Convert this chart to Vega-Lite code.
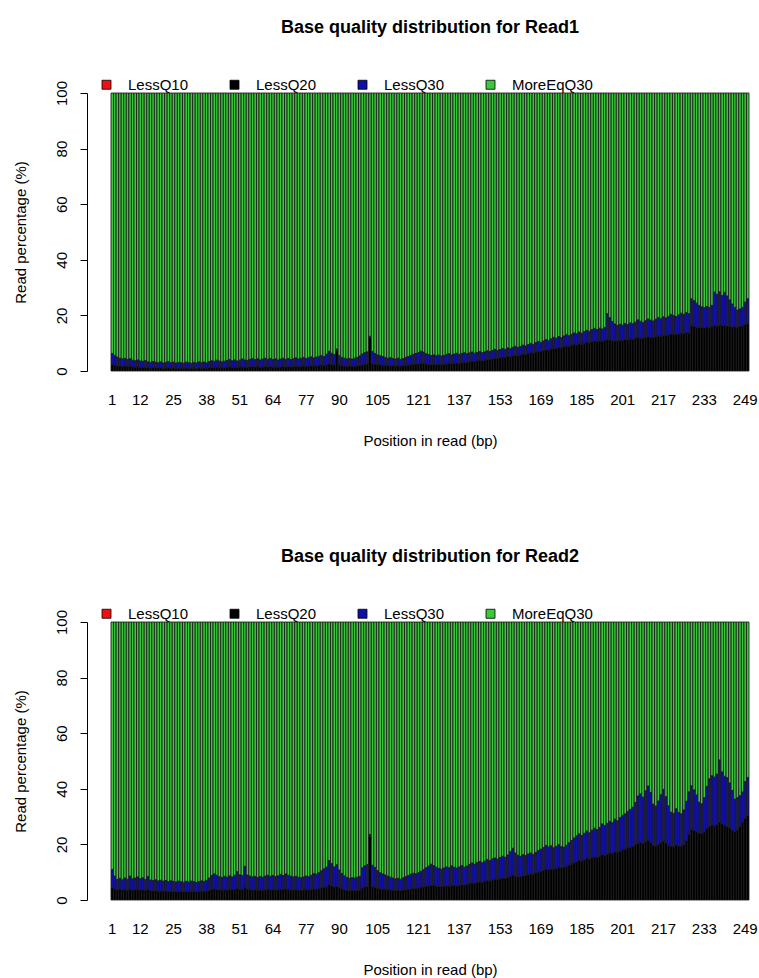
{
  "$schema": "https://vega.github.io/schema/vega-lite/v6.json",
  "background": "white",
  "padding": {"left": 12, "top": 19, "right": 5, "bottom": 5},
  "autosize": {"type": "pad"},
  "config": {
    "font": "Liberation Sans",
    "view": {"stroke": null},
    "axis": {"grid": false, "labelColor": "#000", "titleColor": "#000", "labelFontSize": 15, "titleFontSize": 15, "titleFontWeight": "normal", "domainColor": "#000", "tickColor": "#000"},
    "title": {"font": "Liberation Sans", "fontSize": 18, "fontWeight": "bold", "color": "#000", "anchor": "middle", "offset": 40},
    "legend": {"orient": "none", "legendX": -12, "legendY": -16, "direction": "horizontal", "columns": 4, "symbolType": "square", "symbolSize": 81, "symbolStrokeColor": "#000", "symbolStrokeWidth": 0.8, "symbolOpacity": 1, "labelFontSize": 15, "labelColor": "#000", "labelOffset": 14, "columnPadding": 38, "padding": 0}
  },
  "bounds": "flush",
  "spacing": 251,
  "resolve": {"legend": {"color": "independent"}},
  "vconcat": [
    {
      "title": "Base quality distribution for Read1",
      "width": 638,
      "height": 278,
      "data": {"name": "read1"},
      "transform": [{"fold": ["LessQ20", "LessQ30", "MoreEqQ30"], "as": ["quality", "percent"]}],
      "mark": {"type": "bar", "stroke": "#1a1a1a", "strokeWidth": 0.85},
      "encoding": {
        "x": {"field": "pos", "type": "ordinal", "title": "Position in read (bp)", "sort": "ascending",
          "scale": {"paddingInner": 0, "paddingOuter": 0},
          "axis": {"values": [1, 12, 25, 38, 51, 64, 77, 90, 105, 121, 137, 153, 169, 185, 201, 217, 233, 249], "labelAngle": 0, "domain": false, "ticks": false, "tickSize": 0, "labelPadding": 21, "labelOverlap": false, "titlePadding": 26}},
        "y": {"field": "percent", "type": "quantitative", "stack": "zero", "title": "Read percentage (%)",
          "scale": {"domain": [0, 100], "nice": false},
          "axis": {"values": [0, 20, 40, 60, 80, 100], "offset": 24, "tickSize": 7, "labelAngle": -90, "labelAlign": "center", "labelBaseline": "bottom", "labelPadding": 11, "titlePadding": 26}},
        "color": {"field": "quality", "type": "nominal", "title": null,
          "scale": {"domain": ["LessQ10", "LessQ20", "LessQ30", "MoreEqQ30"], "range": ["#ee1111", "#000000", "#1010a8", "#3cc83c"]}},
        "order": {"field": "quality", "sort": "ascending"}
      }
    },
    {
      "title": "Base quality distribution for Read2",
      "width": 638,
      "height": 278,
      "data": {"name": "read2"},
      "transform": [{"fold": ["LessQ20", "LessQ30", "MoreEqQ30"], "as": ["quality", "percent"]}],
      "mark": {"type": "bar", "stroke": "#1a1a1a", "strokeWidth": 0.85},
      "encoding": {
        "x": {"field": "pos", "type": "ordinal", "title": "Position in read (bp)", "sort": "ascending",
          "scale": {"paddingInner": 0, "paddingOuter": 0},
          "axis": {"values": [1, 12, 25, 38, 51, 64, 77, 90, 105, 121, 137, 153, 169, 185, 201, 217, 233, 249], "labelAngle": 0, "domain": false, "ticks": false, "tickSize": 0, "labelPadding": 21, "labelOverlap": false, "titlePadding": 26}},
        "y": {"field": "percent", "type": "quantitative", "stack": "zero", "title": "Read percentage (%)",
          "scale": {"domain": [0, 100], "nice": false},
          "axis": {"values": [0, 20, 40, 60, 80, 100], "offset": 24, "tickSize": 7, "labelAngle": -90, "labelAlign": "center", "labelBaseline": "bottom", "labelPadding": 11, "titlePadding": 26}},
        "color": {"field": "quality", "type": "nominal", "title": null,
          "scale": {"domain": ["LessQ10", "LessQ20", "LessQ30", "MoreEqQ30"], "range": ["#ee1111", "#000000", "#1010a8", "#3cc83c"]}},
        "order": {"field": "quality", "sort": "ascending"}
      }
    }
  ],
  "datasets": {
    "read1": [
      {"pos":1,"LessQ20":2.4,"LessQ30":3.9,"MoreEqQ30":93.7},
      {"pos":2,"LessQ20":2.1,"LessQ30":3.5,"MoreEqQ30":94.4},
      {"pos":3,"LessQ20":1.9,"LessQ30":3.1,"MoreEqQ30":95.0},
      {"pos":4,"LessQ20":1.8,"LessQ30":2.8,"MoreEqQ30":95.4},
      {"pos":5,"LessQ20":1.7,"LessQ30":2.7,"MoreEqQ30":95.6},
      {"pos":6,"LessQ20":1.8,"LessQ30":2.7,"MoreEqQ30":95.5},
      {"pos":7,"LessQ20":1.6,"LessQ30":2.6,"MoreEqQ30":95.8},
      {"pos":8,"LessQ20":1.7,"LessQ30":2.7,"MoreEqQ30":95.6},
      {"pos":9,"LessQ20":1.5,"LessQ30":2.4,"MoreEqQ30":96.1},
      {"pos":10,"LessQ20":1.4,"LessQ30":2.3,"MoreEqQ30":96.3},
      {"pos":11,"LessQ20":1.5,"LessQ30":2.5,"MoreEqQ30":96.0},
      {"pos":12,"LessQ20":1.4,"LessQ30":2.2,"MoreEqQ30":96.4},
      {"pos":13,"LessQ20":1.3,"LessQ30":2.2,"MoreEqQ30":96.5},
      {"pos":14,"LessQ20":1.4,"LessQ30":2.4,"MoreEqQ30":96.2},
      {"pos":15,"LessQ20":1.2,"LessQ30":2.1,"MoreEqQ30":96.7},
      {"pos":16,"LessQ20":1.1,"LessQ30":2.0,"MoreEqQ30":96.9},
      {"pos":17,"LessQ20":1.3,"LessQ30":2.1,"MoreEqQ30":96.6},
      {"pos":18,"LessQ20":1.2,"LessQ30":2.0,"MoreEqQ30":96.8},
      {"pos":19,"LessQ20":1.1,"LessQ30":1.9,"MoreEqQ30":97.0},
      {"pos":20,"LessQ20":1.2,"LessQ30":2.1,"MoreEqQ30":96.7},
      {"pos":21,"LessQ20":1.0,"LessQ30":1.9,"MoreEqQ30":97.1},
      {"pos":22,"LessQ20":1.1,"LessQ30":2.0,"MoreEqQ30":96.9},
      {"pos":23,"LessQ20":1.2,"LessQ30":2.2,"MoreEqQ30":96.6},
      {"pos":24,"LessQ20":1.0,"LessQ30":2.0,"MoreEqQ30":97.0},
      {"pos":25,"LessQ20":1.1,"LessQ30":2.1,"MoreEqQ30":96.8},
      {"pos":26,"LessQ20":1.0,"LessQ30":1.9,"MoreEqQ30":97.1},
      {"pos":27,"LessQ20":1.1,"LessQ30":2.0,"MoreEqQ30":96.9},
      {"pos":28,"LessQ20":1.0,"LessQ30":2.0,"MoreEqQ30":97.0},
      {"pos":29,"LessQ20":0.9,"LessQ30":1.9,"MoreEqQ30":97.2},
      {"pos":30,"LessQ20":1.1,"LessQ30":2.1,"MoreEqQ30":96.8},
      {"pos":31,"LessQ20":1.0,"LessQ30":2.0,"MoreEqQ30":97.0},
      {"pos":32,"LessQ20":0.9,"LessQ30":1.9,"MoreEqQ30":97.2},
      {"pos":33,"LessQ20":1.0,"LessQ30":2.1,"MoreEqQ30":96.9},
      {"pos":34,"LessQ20":0.9,"LessQ30":2.0,"MoreEqQ30":97.1},
      {"pos":35,"LessQ20":1.1,"LessQ30":2.2,"MoreEqQ30":96.7},
      {"pos":36,"LessQ20":1.0,"LessQ30":2.0,"MoreEqQ30":97.0},
      {"pos":37,"LessQ20":1.1,"LessQ30":2.1,"MoreEqQ30":96.8},
      {"pos":38,"LessQ20":1.0,"LessQ30":1.9,"MoreEqQ30":97.1},
      {"pos":39,"LessQ20":1.2,"LessQ30":2.2,"MoreEqQ30":96.6},
      {"pos":40,"LessQ20":1.3,"LessQ30":2.4,"MoreEqQ30":96.3},
      {"pos":41,"LessQ20":1.2,"LessQ30":2.3,"MoreEqQ30":96.5},
      {"pos":42,"LessQ20":1.4,"LessQ30":2.5,"MoreEqQ30":96.1},
      {"pos":43,"LessQ20":1.3,"LessQ30":2.3,"MoreEqQ30":96.4},
      {"pos":44,"LessQ20":1.2,"LessQ30":2.1,"MoreEqQ30":96.7},
      {"pos":45,"LessQ20":1.3,"LessQ30":2.2,"MoreEqQ30":96.5},
      {"pos":46,"LessQ20":1.4,"LessQ30":2.4,"MoreEqQ30":96.2},
      {"pos":47,"LessQ20":1.5,"LessQ30":2.6,"MoreEqQ30":95.9},
      {"pos":48,"LessQ20":1.3,"LessQ30":2.4,"MoreEqQ30":96.3},
      {"pos":49,"LessQ20":1.4,"LessQ30":2.6,"MoreEqQ30":96.0},
      {"pos":50,"LessQ20":1.3,"LessQ30":2.3,"MoreEqQ30":96.4},
      {"pos":51,"LessQ20":1.4,"LessQ30":2.5,"MoreEqQ30":96.1},
      {"pos":52,"LessQ20":1.5,"LessQ30":2.8,"MoreEqQ30":95.7},
      {"pos":53,"LessQ20":1.4,"LessQ30":2.6,"MoreEqQ30":96.0},
      {"pos":54,"LessQ20":1.3,"LessQ30":2.5,"MoreEqQ30":96.2},
      {"pos":55,"LessQ20":1.5,"LessQ30":2.7,"MoreEqQ30":95.8},
      {"pos":56,"LessQ20":1.6,"LessQ30":2.9,"MoreEqQ30":95.5},
      {"pos":57,"LessQ20":1.5,"LessQ30":2.6,"MoreEqQ30":95.9},
      {"pos":58,"LessQ20":1.6,"LessQ30":2.8,"MoreEqQ30":95.6},
      {"pos":59,"LessQ20":1.4,"LessQ30":2.6,"MoreEqQ30":96.0},
      {"pos":60,"LessQ20":1.5,"LessQ30":2.8,"MoreEqQ30":95.7},
      {"pos":61,"LessQ20":1.6,"LessQ30":3.0,"MoreEqQ30":95.4},
      {"pos":62,"LessQ20":1.5,"LessQ30":2.7,"MoreEqQ30":95.8},
      {"pos":63,"LessQ20":1.6,"LessQ30":2.9,"MoreEqQ30":95.5},
      {"pos":64,"LessQ20":1.4,"LessQ30":2.7,"MoreEqQ30":95.9},
      {"pos":65,"LessQ20":1.5,"LessQ30":2.9,"MoreEqQ30":95.6},
      {"pos":66,"LessQ20":1.4,"LessQ30":2.6,"MoreEqQ30":96.0},
      {"pos":67,"LessQ20":1.5,"LessQ30":2.8,"MoreEqQ30":95.7},
      {"pos":68,"LessQ20":1.6,"LessQ30":3.0,"MoreEqQ30":95.4},
      {"pos":69,"LessQ20":1.5,"LessQ30":2.7,"MoreEqQ30":95.8},
      {"pos":70,"LessQ20":1.6,"LessQ30":2.9,"MoreEqQ30":95.5},
      {"pos":71,"LessQ20":1.5,"LessQ30":2.6,"MoreEqQ30":95.9},
      {"pos":72,"LessQ20":1.6,"LessQ30":2.8,"MoreEqQ30":95.6},
      {"pos":73,"LessQ20":1.7,"LessQ30":3.0,"MoreEqQ30":95.3},
      {"pos":74,"LessQ20":1.6,"LessQ30":2.7,"MoreEqQ30":95.7},
      {"pos":75,"LessQ20":1.7,"LessQ30":2.9,"MoreEqQ30":95.4},
      {"pos":76,"LessQ20":1.8,"LessQ30":3.1,"MoreEqQ30":95.1},
      {"pos":77,"LessQ20":1.7,"LessQ30":2.8,"MoreEqQ30":95.5},
      {"pos":78,"LessQ20":1.8,"LessQ30":3.0,"MoreEqQ30":95.2},
      {"pos":79,"LessQ20":1.9,"LessQ30":3.2,"MoreEqQ30":94.9},
      {"pos":80,"LessQ20":1.8,"LessQ30":2.9,"MoreEqQ30":95.3},
      {"pos":81,"LessQ20":1.9,"LessQ30":3.1,"MoreEqQ30":95.0},
      {"pos":82,"LessQ20":2.0,"LessQ30":3.3,"MoreEqQ30":94.7},
      {"pos":83,"LessQ20":2.1,"LessQ30":3.5,"MoreEqQ30":94.4},
      {"pos":84,"LessQ20":2.0,"LessQ30":3.2,"MoreEqQ30":94.8},
      {"pos":85,"LessQ20":2.2,"LessQ30":3.8,"MoreEqQ30":94.0},
      {"pos":86,"LessQ20":2.5,"LessQ30":4.6,"MoreEqQ30":92.9},
      {"pos":87,"LessQ20":2.3,"LessQ30":4.1,"MoreEqQ30":93.6},
      {"pos":88,"LessQ20":2.2,"LessQ30":3.7,"MoreEqQ30":94.1},
      {"pos":89,"LessQ20":7.4,"LessQ30":0.5,"MoreEqQ30":92.1},
      {"pos":90,"LessQ20":2.1,"LessQ30":3.5,"MoreEqQ30":94.4},
      {"pos":91,"LessQ20":1.9,"LessQ30":3.0,"MoreEqQ30":95.1},
      {"pos":92,"LessQ20":1.8,"LessQ30":2.8,"MoreEqQ30":95.4},
      {"pos":93,"LessQ20":1.7,"LessQ30":2.7,"MoreEqQ30":95.6},
      {"pos":94,"LessQ20":1.8,"LessQ30":2.7,"MoreEqQ30":95.5},
      {"pos":95,"LessQ20":1.7,"LessQ30":2.6,"MoreEqQ30":95.7},
      {"pos":96,"LessQ20":1.8,"LessQ30":2.8,"MoreEqQ30":95.4},
      {"pos":97,"LessQ20":1.9,"LessQ30":3.0,"MoreEqQ30":95.1},
      {"pos":98,"LessQ20":2.0,"LessQ30":3.4,"MoreEqQ30":94.6},
      {"pos":99,"LessQ20":2.2,"LessQ30":3.9,"MoreEqQ30":93.9},
      {"pos":100,"LessQ20":2.4,"LessQ30":4.2,"MoreEqQ30":93.4},
      {"pos":101,"LessQ20":2.5,"LessQ30":4.4,"MoreEqQ30":93.1},
      {"pos":102,"LessQ20":12.0,"LessQ30":0.5,"MoreEqQ30":87.5},
      {"pos":103,"LessQ20":2.6,"LessQ30":4.4,"MoreEqQ30":93.0},
      {"pos":104,"LessQ20":2.4,"LessQ30":3.9,"MoreEqQ30":93.7},
      {"pos":105,"LessQ20":2.3,"LessQ30":3.5,"MoreEqQ30":94.2},
      {"pos":106,"LessQ20":2.2,"LessQ30":3.3,"MoreEqQ30":94.5},
      {"pos":107,"LessQ20":2.1,"LessQ30":3.1,"MoreEqQ30":94.8},
      {"pos":108,"LessQ20":2.0,"LessQ30":2.9,"MoreEqQ30":95.1},
      {"pos":109,"LessQ20":1.9,"LessQ30":2.7,"MoreEqQ30":95.4},
      {"pos":110,"LessQ20":2.0,"LessQ30":2.8,"MoreEqQ30":95.2},
      {"pos":111,"LessQ20":1.9,"LessQ30":2.6,"MoreEqQ30":95.5},
      {"pos":112,"LessQ20":1.8,"LessQ30":2.5,"MoreEqQ30":95.7},
      {"pos":113,"LessQ20":1.9,"LessQ30":2.7,"MoreEqQ30":95.4},
      {"pos":114,"LessQ20":1.8,"LessQ30":2.4,"MoreEqQ30":95.8},
      {"pos":115,"LessQ20":1.9,"LessQ30":2.6,"MoreEqQ30":95.5},
      {"pos":116,"LessQ20":2.0,"LessQ30":2.9,"MoreEqQ30":95.1},
      {"pos":117,"LessQ20":2.1,"LessQ30":3.1,"MoreEqQ30":94.8},
      {"pos":118,"LessQ20":2.3,"LessQ30":3.3,"MoreEqQ30":94.4},
      {"pos":119,"LessQ20":2.4,"LessQ30":3.6,"MoreEqQ30":94.0},
      {"pos":120,"LessQ20":2.5,"LessQ30":3.8,"MoreEqQ30":93.7},
      {"pos":121,"LessQ20":2.6,"LessQ30":4.0,"MoreEqQ30":93.4},
      {"pos":122,"LessQ20":2.8,"LessQ30":4.3,"MoreEqQ30":92.9},
      {"pos":123,"LessQ20":2.7,"LessQ30":4.1,"MoreEqQ30":93.2},
      {"pos":124,"LessQ20":2.5,"LessQ30":3.7,"MoreEqQ30":93.8},
      {"pos":125,"LessQ20":2.4,"LessQ30":3.5,"MoreEqQ30":94.1},
      {"pos":126,"LessQ20":2.3,"LessQ30":3.3,"MoreEqQ30":94.4},
      {"pos":127,"LessQ20":2.4,"LessQ30":3.4,"MoreEqQ30":94.2},
      {"pos":128,"LessQ20":2.3,"LessQ30":3.2,"MoreEqQ30":94.5},
      {"pos":129,"LessQ20":2.4,"LessQ30":3.3,"MoreEqQ30":94.3},
      {"pos":130,"LessQ20":2.3,"LessQ30":3.1,"MoreEqQ30":94.6},
      {"pos":131,"LessQ20":2.4,"LessQ30":3.2,"MoreEqQ30":94.4},
      {"pos":132,"LessQ20":2.5,"LessQ30":3.4,"MoreEqQ30":94.1},
      {"pos":133,"LessQ20":2.7,"LessQ30":3.5,"MoreEqQ30":93.8},
      {"pos":134,"LessQ20":2.6,"LessQ30":3.2,"MoreEqQ30":94.2},
      {"pos":135,"LessQ20":2.8,"LessQ30":3.3,"MoreEqQ30":93.9},
      {"pos":136,"LessQ20":2.9,"LessQ30":3.5,"MoreEqQ30":93.6},
      {"pos":137,"LessQ20":2.8,"LessQ30":3.2,"MoreEqQ30":94.0},
      {"pos":138,"LessQ20":3.0,"LessQ30":3.3,"MoreEqQ30":93.7},
      {"pos":139,"LessQ20":3.2,"LessQ30":3.4,"MoreEqQ30":93.4},
      {"pos":140,"LessQ20":3.1,"LessQ30":3.1,"MoreEqQ30":93.8},
      {"pos":141,"LessQ20":3.3,"LessQ30":3.2,"MoreEqQ30":93.5},
      {"pos":142,"LessQ20":3.5,"LessQ30":3.3,"MoreEqQ30":93.2},
      {"pos":143,"LessQ20":3.4,"LessQ30":3.0,"MoreEqQ30":93.6},
      {"pos":144,"LessQ20":3.6,"LessQ30":3.1,"MoreEqQ30":93.3},
      {"pos":145,"LessQ20":3.8,"LessQ30":3.2,"MoreEqQ30":93.0},
      {"pos":146,"LessQ20":3.7,"LessQ30":2.9,"MoreEqQ30":93.4},
      {"pos":147,"LessQ20":3.9,"LessQ30":3.0,"MoreEqQ30":93.1},
      {"pos":148,"LessQ20":4.2,"LessQ30":3.1,"MoreEqQ30":92.7},
      {"pos":149,"LessQ20":4.1,"LessQ30":2.9,"MoreEqQ30":93.0},
      {"pos":150,"LessQ20":4.4,"LessQ30":3.0,"MoreEqQ30":92.6},
      {"pos":151,"LessQ20":4.6,"LessQ30":3.2,"MoreEqQ30":92.2},
      {"pos":152,"LessQ20":4.5,"LessQ30":2.9,"MoreEqQ30":92.6},
      {"pos":153,"LessQ20":4.7,"LessQ30":3.0,"MoreEqQ30":92.3},
      {"pos":154,"LessQ20":5.0,"LessQ30":3.1,"MoreEqQ30":91.9},
      {"pos":155,"LessQ20":4.9,"LessQ30":2.9,"MoreEqQ30":92.2},
      {"pos":156,"LessQ20":5.2,"LessQ30":3.1,"MoreEqQ30":91.7},
      {"pos":157,"LessQ20":5.1,"LessQ30":2.9,"MoreEqQ30":92.0},
      {"pos":158,"LessQ20":5.4,"LessQ30":3.1,"MoreEqQ30":91.5},
      {"pos":159,"LessQ20":5.7,"LessQ30":3.2,"MoreEqQ30":91.1},
      {"pos":160,"LessQ20":5.5,"LessQ30":3.0,"MoreEqQ30":91.5},
      {"pos":161,"LessQ20":5.8,"LessQ30":3.0,"MoreEqQ30":91.2},
      {"pos":162,"LessQ20":6.1,"LessQ30":3.2,"MoreEqQ30":90.7},
      {"pos":163,"LessQ20":6.0,"LessQ30":3.0,"MoreEqQ30":91.0},
      {"pos":164,"LessQ20":6.3,"LessQ30":3.2,"MoreEqQ30":90.5},
      {"pos":165,"LessQ20":6.6,"LessQ30":3.3,"MoreEqQ30":90.1},
      {"pos":166,"LessQ20":6.5,"LessQ30":3.1,"MoreEqQ30":90.4},
      {"pos":167,"LessQ20":6.8,"LessQ30":3.4,"MoreEqQ30":89.8},
      {"pos":168,"LessQ20":7.1,"LessQ30":3.5,"MoreEqQ30":89.4},
      {"pos":169,"LessQ20":7.0,"LessQ30":3.3,"MoreEqQ30":89.7},
      {"pos":170,"LessQ20":7.3,"LessQ30":3.5,"MoreEqQ30":89.2},
      {"pos":171,"LessQ20":7.6,"LessQ30":3.7,"MoreEqQ30":88.7},
      {"pos":172,"LessQ20":7.5,"LessQ30":3.5,"MoreEqQ30":89.0},
      {"pos":173,"LessQ20":7.9,"LessQ30":3.7,"MoreEqQ30":88.4},
      {"pos":174,"LessQ20":8.2,"LessQ30":3.9,"MoreEqQ30":87.9},
      {"pos":175,"LessQ20":8.1,"LessQ30":3.7,"MoreEqQ30":88.2},
      {"pos":176,"LessQ20":8.5,"LessQ30":3.9,"MoreEqQ30":87.6},
      {"pos":177,"LessQ20":8.3,"LessQ30":3.7,"MoreEqQ30":88.0},
      {"pos":178,"LessQ20":8.7,"LessQ30":3.9,"MoreEqQ30":87.4},
      {"pos":179,"LessQ20":9.0,"LessQ30":4.1,"MoreEqQ30":86.9},
      {"pos":180,"LessQ20":8.9,"LessQ30":3.8,"MoreEqQ30":87.3},
      {"pos":181,"LessQ20":9.2,"LessQ30":4.0,"MoreEqQ30":86.8},
      {"pos":182,"LessQ20":9.5,"LessQ30":4.2,"MoreEqQ30":86.3},
      {"pos":183,"LessQ20":9.4,"LessQ30":4.0,"MoreEqQ30":86.6},
      {"pos":184,"LessQ20":9.8,"LessQ30":4.2,"MoreEqQ30":86.0},
      {"pos":185,"LessQ20":9.6,"LessQ30":4.0,"MoreEqQ30":86.4},
      {"pos":186,"LessQ20":10.0,"LessQ30":4.2,"MoreEqQ30":85.8},
      {"pos":187,"LessQ20":10.3,"LessQ30":4.3,"MoreEqQ30":85.4},
      {"pos":188,"LessQ20":10.1,"LessQ30":4.2,"MoreEqQ30":85.7},
      {"pos":189,"LessQ20":10.5,"LessQ30":4.4,"MoreEqQ30":85.1},
      {"pos":190,"LessQ20":10.8,"LessQ30":4.5,"MoreEqQ30":84.7},
      {"pos":191,"LessQ20":10.6,"LessQ30":4.3,"MoreEqQ30":85.1},
      {"pos":192,"LessQ20":10.9,"LessQ30":4.5,"MoreEqQ30":84.6},
      {"pos":193,"LessQ20":10.7,"LessQ30":4.4,"MoreEqQ30":84.9},
      {"pos":194,"LessQ20":11.0,"LessQ30":4.6,"MoreEqQ30":84.4},
      {"pos":195,"LessQ20":11.4,"LessQ30":9.2,"MoreEqQ30":79.4},
      {"pos":196,"LessQ20":11.2,"LessQ30":8.0,"MoreEqQ30":80.8},
      {"pos":197,"LessQ20":11.0,"LessQ30":6.8,"MoreEqQ30":82.2},
      {"pos":198,"LessQ20":10.8,"LessQ30":6.1,"MoreEqQ30":83.1},
      {"pos":199,"LessQ20":10.9,"LessQ30":5.5,"MoreEqQ30":83.6},
      {"pos":200,"LessQ20":11.1,"LessQ30":5.7,"MoreEqQ30":83.2},
      {"pos":201,"LessQ20":11.0,"LessQ30":5.5,"MoreEqQ30":83.5},
      {"pos":202,"LessQ20":11.3,"LessQ30":5.8,"MoreEqQ30":82.9},
      {"pos":203,"LessQ20":11.2,"LessQ30":5.5,"MoreEqQ30":83.3},
      {"pos":204,"LessQ20":11.5,"LessQ30":5.8,"MoreEqQ30":82.7},
      {"pos":205,"LessQ20":11.4,"LessQ30":5.6,"MoreEqQ30":83.0},
      {"pos":206,"LessQ20":11.7,"LessQ30":5.9,"MoreEqQ30":82.4},
      {"pos":207,"LessQ20":12.0,"LessQ30":6.4,"MoreEqQ30":81.6},
      {"pos":208,"LessQ20":11.8,"LessQ30":6.1,"MoreEqQ30":82.1},
      {"pos":209,"LessQ20":11.7,"LessQ30":5.8,"MoreEqQ30":82.5},
      {"pos":210,"LessQ20":12.0,"LessQ30":6.1,"MoreEqQ30":81.9},
      {"pos":211,"LessQ20":12.3,"LessQ30":6.4,"MoreEqQ30":81.3},
      {"pos":212,"LessQ20":12.1,"LessQ30":6.2,"MoreEqQ30":81.7},
      {"pos":213,"LessQ20":12.0,"LessQ30":6.0,"MoreEqQ30":82.0},
      {"pos":214,"LessQ20":12.3,"LessQ30":6.3,"MoreEqQ30":81.4},
      {"pos":215,"LessQ20":12.6,"LessQ30":6.6,"MoreEqQ30":80.8},
      {"pos":216,"LessQ20":12.5,"LessQ30":6.3,"MoreEqQ30":81.2},
      {"pos":217,"LessQ20":12.8,"LessQ30":6.7,"MoreEqQ30":80.5},
      {"pos":218,"LessQ20":12.7,"LessQ30":6.4,"MoreEqQ30":80.9},
      {"pos":219,"LessQ20":13.0,"LessQ30":6.7,"MoreEqQ30":80.3},
      {"pos":220,"LessQ20":13.3,"LessQ30":7.1,"MoreEqQ30":79.6},
      {"pos":221,"LessQ20":13.2,"LessQ30":6.8,"MoreEqQ30":80.0},
      {"pos":222,"LessQ20":13.1,"LessQ30":6.5,"MoreEqQ30":80.4},
      {"pos":223,"LessQ20":13.4,"LessQ30":6.8,"MoreEqQ30":79.8},
      {"pos":224,"LessQ20":13.6,"LessQ30":7.2,"MoreEqQ30":79.2},
      {"pos":225,"LessQ20":13.5,"LessQ30":6.9,"MoreEqQ30":79.6},
      {"pos":226,"LessQ20":13.8,"LessQ30":7.2,"MoreEqQ30":79.0},
      {"pos":227,"LessQ20":13.7,"LessQ30":6.9,"MoreEqQ30":79.4},
      {"pos":228,"LessQ20":16.3,"LessQ30":9.7,"MoreEqQ30":74.0},
      {"pos":229,"LessQ20":16.1,"LessQ30":9.2,"MoreEqQ30":74.7},
      {"pos":230,"LessQ20":15.8,"LessQ30":8.6,"MoreEqQ30":75.6},
      {"pos":231,"LessQ20":15.6,"LessQ30":8.0,"MoreEqQ30":76.4},
      {"pos":232,"LessQ20":15.7,"LessQ30":7.4,"MoreEqQ30":76.9},
      {"pos":233,"LessQ20":15.5,"LessQ30":7.3,"MoreEqQ30":77.2},
      {"pos":234,"LessQ20":15.8,"LessQ30":7.4,"MoreEqQ30":76.8},
      {"pos":235,"LessQ20":15.6,"LessQ30":7.3,"MoreEqQ30":77.1},
      {"pos":236,"LessQ20":15.9,"LessQ30":7.7,"MoreEqQ30":76.4},
      {"pos":237,"LessQ20":16.4,"LessQ30":12.0,"MoreEqQ30":71.6},
      {"pos":238,"LessQ20":16.2,"LessQ30":11.4,"MoreEqQ30":72.4},
      {"pos":239,"LessQ20":16.5,"LessQ30":12.0,"MoreEqQ30":71.5},
      {"pos":240,"LessQ20":16.3,"LessQ30":10.9,"MoreEqQ30":72.8},
      {"pos":241,"LessQ20":16.4,"LessQ30":11.9,"MoreEqQ30":71.7},
      {"pos":242,"LessQ20":16.2,"LessQ30":10.8,"MoreEqQ30":73.0},
      {"pos":243,"LessQ20":16.0,"LessQ30":9.6,"MoreEqQ30":74.4},
      {"pos":244,"LessQ20":15.8,"LessQ30":8.3,"MoreEqQ30":75.9},
      {"pos":245,"LessQ20":15.9,"LessQ30":7.0,"MoreEqQ30":77.1},
      {"pos":246,"LessQ20":15.7,"LessQ30":6.2,"MoreEqQ30":78.1},
      {"pos":247,"LessQ20":16.0,"LessQ30":6.3,"MoreEqQ30":77.7},
      {"pos":248,"LessQ20":16.3,"LessQ30":6.5,"MoreEqQ30":77.2},
      {"pos":249,"LessQ20":16.8,"LessQ30":8.0,"MoreEqQ30":75.2},
      {"pos":250,"LessQ20":17.2,"LessQ30":8.8,"MoreEqQ30":74.0}
    ],
    "read2": [
      {"pos":1,"LessQ20":4.6,"LessQ30":6.4,"MoreEqQ30":89.0},
      {"pos":2,"LessQ20":4.0,"LessQ30":4.6,"MoreEqQ30":91.4},
      {"pos":3,"LessQ20":3.7,"LessQ30":3.7,"MoreEqQ30":92.6},
      {"pos":4,"LessQ20":3.8,"LessQ30":4.0,"MoreEqQ30":92.2},
      {"pos":5,"LessQ20":3.6,"LessQ30":3.7,"MoreEqQ30":92.7},
      {"pos":6,"LessQ20":3.7,"LessQ30":4.2,"MoreEqQ30":92.1},
      {"pos":7,"LessQ20":3.5,"LessQ30":4.0,"MoreEqQ30":92.5},
      {"pos":8,"LessQ20":3.8,"LessQ30":4.8,"MoreEqQ30":91.4},
      {"pos":9,"LessQ20":3.6,"LessQ30":4.0,"MoreEqQ30":92.4},
      {"pos":10,"LessQ20":3.7,"LessQ30":4.2,"MoreEqQ30":92.1},
      {"pos":11,"LessQ20":3.8,"LessQ30":4.5,"MoreEqQ30":91.7},
      {"pos":12,"LessQ20":3.6,"LessQ30":4.1,"MoreEqQ30":92.3},
      {"pos":13,"LessQ20":3.7,"LessQ30":4.3,"MoreEqQ30":92.0},
      {"pos":14,"LessQ20":3.5,"LessQ30":3.9,"MoreEqQ30":92.6},
      {"pos":15,"LessQ20":3.8,"LessQ30":4.7,"MoreEqQ30":91.5},
      {"pos":16,"LessQ20":3.4,"LessQ30":3.8,"MoreEqQ30":92.8},
      {"pos":17,"LessQ20":3.3,"LessQ30":3.7,"MoreEqQ30":93.0},
      {"pos":18,"LessQ20":3.4,"LessQ30":3.9,"MoreEqQ30":92.7},
      {"pos":19,"LessQ20":3.2,"LessQ30":3.7,"MoreEqQ30":93.1},
      {"pos":20,"LessQ20":3.3,"LessQ30":3.8,"MoreEqQ30":92.9},
      {"pos":21,"LessQ20":3.2,"LessQ30":3.6,"MoreEqQ30":93.2},
      {"pos":22,"LessQ20":3.3,"LessQ30":3.7,"MoreEqQ30":93.0},
      {"pos":23,"LessQ20":3.1,"LessQ30":3.5,"MoreEqQ30":93.4},
      {"pos":24,"LessQ20":3.2,"LessQ30":3.7,"MoreEqQ30":93.1},
      {"pos":25,"LessQ20":3.1,"LessQ30":3.6,"MoreEqQ30":93.3},
      {"pos":26,"LessQ20":3.0,"LessQ30":3.5,"MoreEqQ30":93.5},
      {"pos":27,"LessQ20":3.2,"LessQ30":3.6,"MoreEqQ30":93.2},
      {"pos":28,"LessQ20":3.1,"LessQ30":3.5,"MoreEqQ30":93.4},
      {"pos":29,"LessQ20":3.0,"LessQ30":3.4,"MoreEqQ30":93.6},
      {"pos":30,"LessQ20":3.1,"LessQ30":3.6,"MoreEqQ30":93.3},
      {"pos":31,"LessQ20":3.0,"LessQ30":3.5,"MoreEqQ30":93.5},
      {"pos":32,"LessQ20":3.2,"LessQ30":3.6,"MoreEqQ30":93.2},
      {"pos":33,"LessQ20":3.1,"LessQ30":3.5,"MoreEqQ30":93.4},
      {"pos":34,"LessQ20":3.0,"LessQ30":3.3,"MoreEqQ30":93.7},
      {"pos":35,"LessQ20":3.1,"LessQ30":3.5,"MoreEqQ30":93.4},
      {"pos":36,"LessQ20":3.2,"LessQ30":3.7,"MoreEqQ30":93.1},
      {"pos":37,"LessQ20":3.1,"LessQ30":3.6,"MoreEqQ30":93.3},
      {"pos":38,"LessQ20":3.3,"LessQ30":3.8,"MoreEqQ30":92.9},
      {"pos":39,"LessQ20":3.5,"LessQ30":4.4,"MoreEqQ30":92.1},
      {"pos":40,"LessQ20":3.8,"LessQ30":5.0,"MoreEqQ30":91.2},
      {"pos":41,"LessQ20":4.0,"LessQ30":5.4,"MoreEqQ30":90.6},
      {"pos":42,"LessQ20":3.8,"LessQ30":5.1,"MoreEqQ30":91.1},
      {"pos":43,"LessQ20":3.7,"LessQ30":4.7,"MoreEqQ30":91.6},
      {"pos":44,"LessQ20":3.6,"LessQ30":4.5,"MoreEqQ30":91.9},
      {"pos":45,"LessQ20":3.7,"LessQ30":4.8,"MoreEqQ30":91.5},
      {"pos":46,"LessQ20":3.6,"LessQ30":4.6,"MoreEqQ30":91.8},
      {"pos":47,"LessQ20":3.8,"LessQ30":4.9,"MoreEqQ30":91.3},
      {"pos":48,"LessQ20":3.7,"LessQ30":4.6,"MoreEqQ30":91.7},
      {"pos":49,"LessQ20":3.9,"LessQ30":5.0,"MoreEqQ30":91.1},
      {"pos":50,"LessQ20":4.2,"LessQ30":6.0,"MoreEqQ30":89.8},
      {"pos":51,"LessQ20":3.9,"LessQ30":5.2,"MoreEqQ30":90.9},
      {"pos":52,"LessQ20":3.8,"LessQ30":5.0,"MoreEqQ30":91.2},
      {"pos":53,"LessQ20":4.6,"LessQ30":7.5,"MoreEqQ30":87.9},
      {"pos":54,"LessQ20":3.9,"LessQ30":5.1,"MoreEqQ30":91.0},
      {"pos":55,"LessQ20":3.7,"LessQ30":4.9,"MoreEqQ30":91.4},
      {"pos":56,"LessQ20":3.6,"LessQ30":4.7,"MoreEqQ30":91.7},
      {"pos":57,"LessQ20":3.7,"LessQ30":4.8,"MoreEqQ30":91.5},
      {"pos":58,"LessQ20":3.5,"LessQ30":4.6,"MoreEqQ30":91.9},
      {"pos":59,"LessQ20":3.6,"LessQ30":4.8,"MoreEqQ30":91.6},
      {"pos":60,"LessQ20":3.5,"LessQ30":4.7,"MoreEqQ30":91.8},
      {"pos":61,"LessQ20":3.7,"LessQ30":4.9,"MoreEqQ30":91.4},
      {"pos":62,"LessQ20":3.8,"LessQ30":5.1,"MoreEqQ30":91.1},
      {"pos":63,"LessQ20":3.7,"LessQ30":4.8,"MoreEqQ30":91.5},
      {"pos":64,"LessQ20":3.8,"LessQ30":5.0,"MoreEqQ30":91.2},
      {"pos":65,"LessQ20":3.6,"LessQ30":4.8,"MoreEqQ30":91.6},
      {"pos":66,"LessQ20":3.7,"LessQ30":5.0,"MoreEqQ30":91.3},
      {"pos":67,"LessQ20":3.9,"LessQ30":5.3,"MoreEqQ30":90.8},
      {"pos":68,"LessQ20":3.8,"LessQ30":5.0,"MoreEqQ30":91.2},
      {"pos":69,"LessQ20":4.0,"LessQ30":5.4,"MoreEqQ30":90.6},
      {"pos":70,"LessQ20":3.8,"LessQ30":5.1,"MoreEqQ30":91.1},
      {"pos":71,"LessQ20":3.7,"LessQ30":4.9,"MoreEqQ30":91.4},
      {"pos":72,"LessQ20":3.6,"LessQ30":4.7,"MoreEqQ30":91.7},
      {"pos":73,"LessQ20":3.7,"LessQ30":4.8,"MoreEqQ30":91.5},
      {"pos":74,"LessQ20":3.6,"LessQ30":4.6,"MoreEqQ30":91.8},
      {"pos":75,"LessQ20":3.5,"LessQ30":4.5,"MoreEqQ30":92.0},
      {"pos":76,"LessQ20":3.6,"LessQ30":4.7,"MoreEqQ30":91.7},
      {"pos":77,"LessQ20":3.7,"LessQ30":4.9,"MoreEqQ30":91.4},
      {"pos":78,"LessQ20":3.6,"LessQ30":4.8,"MoreEqQ30":91.6},
      {"pos":79,"LessQ20":3.8,"LessQ30":5.1,"MoreEqQ30":91.1},
      {"pos":80,"LessQ20":4.0,"LessQ30":5.5,"MoreEqQ30":90.5},
      {"pos":81,"LessQ20":3.9,"LessQ30":5.4,"MoreEqQ30":90.7},
      {"pos":82,"LessQ20":4.1,"LessQ30":5.7,"MoreEqQ30":90.2},
      {"pos":83,"LessQ20":4.3,"LessQ30":6.2,"MoreEqQ30":89.5},
      {"pos":84,"LessQ20":4.5,"LessQ30":6.7,"MoreEqQ30":88.8},
      {"pos":85,"LessQ20":4.7,"LessQ30":7.1,"MoreEqQ30":88.2},
      {"pos":86,"LessQ20":5.4,"LessQ30":8.8,"MoreEqQ30":85.8},
      {"pos":87,"LessQ20":5.1,"LessQ30":8.0,"MoreEqQ30":86.9},
      {"pos":88,"LessQ20":4.7,"LessQ30":7.2,"MoreEqQ30":88.1},
      {"pos":89,"LessQ20":4.9,"LessQ30":7.8,"MoreEqQ30":87.3},
      {"pos":90,"LessQ20":4.4,"LessQ30":6.4,"MoreEqQ30":89.2},
      {"pos":91,"LessQ20":4.0,"LessQ30":5.6,"MoreEqQ30":90.4},
      {"pos":92,"LessQ20":3.7,"LessQ30":5.0,"MoreEqQ30":91.3},
      {"pos":93,"LessQ20":3.5,"LessQ30":4.6,"MoreEqQ30":91.9},
      {"pos":94,"LessQ20":3.4,"LessQ30":4.4,"MoreEqQ30":92.2},
      {"pos":95,"LessQ20":3.5,"LessQ30":4.5,"MoreEqQ30":92.0},
      {"pos":96,"LessQ20":3.4,"LessQ30":4.5,"MoreEqQ30":92.1},
      {"pos":97,"LessQ20":3.5,"LessQ30":4.7,"MoreEqQ30":91.8},
      {"pos":98,"LessQ20":3.6,"LessQ30":4.9,"MoreEqQ30":91.5},
      {"pos":99,"LessQ20":4.4,"LessQ30":7.2,"MoreEqQ30":88.4},
      {"pos":100,"LessQ20":4.7,"LessQ30":7.6,"MoreEqQ30":87.7},
      {"pos":101,"LessQ20":4.9,"LessQ30":7.9,"MoreEqQ30":87.2},
      {"pos":102,"LessQ20":22.8,"LessQ30":0.8,"MoreEqQ30":76.4},
      {"pos":103,"LessQ20":4.8,"LessQ30":7.7,"MoreEqQ30":87.5},
      {"pos":104,"LessQ20":4.6,"LessQ30":7.1,"MoreEqQ30":88.3},
      {"pos":105,"LessQ20":4.2,"LessQ30":6.4,"MoreEqQ30":89.4},
      {"pos":106,"LessQ20":4.0,"LessQ30":5.8,"MoreEqQ30":90.2},
      {"pos":107,"LessQ20":3.9,"LessQ30":5.5,"MoreEqQ30":90.6},
      {"pos":108,"LessQ20":3.8,"LessQ30":5.2,"MoreEqQ30":91.0},
      {"pos":109,"LessQ20":3.7,"LessQ30":4.9,"MoreEqQ30":91.4},
      {"pos":110,"LessQ20":3.6,"LessQ30":4.6,"MoreEqQ30":91.8},
      {"pos":111,"LessQ20":3.5,"LessQ30":4.4,"MoreEqQ30":92.1},
      {"pos":112,"LessQ20":3.4,"LessQ30":4.2,"MoreEqQ30":92.4},
      {"pos":113,"LessQ20":3.5,"LessQ30":4.3,"MoreEqQ30":92.2},
      {"pos":114,"LessQ20":3.4,"LessQ30":4.1,"MoreEqQ30":92.5},
      {"pos":115,"LessQ20":3.6,"LessQ30":4.4,"MoreEqQ30":92.0},
      {"pos":116,"LessQ20":3.7,"LessQ30":4.7,"MoreEqQ30":91.6},
      {"pos":117,"LessQ20":3.9,"LessQ30":4.9,"MoreEqQ30":91.2},
      {"pos":118,"LessQ20":4.0,"LessQ30":5.3,"MoreEqQ30":90.7},
      {"pos":119,"LessQ20":4.2,"LessQ30":5.4,"MoreEqQ30":90.4},
      {"pos":120,"LessQ20":4.1,"LessQ30":5.3,"MoreEqQ30":90.6},
      {"pos":121,"LessQ20":4.3,"LessQ30":5.5,"MoreEqQ30":90.2},
      {"pos":122,"LessQ20":4.5,"LessQ30":5.8,"MoreEqQ30":89.7},
      {"pos":123,"LessQ20":4.7,"LessQ30":6.2,"MoreEqQ30":89.1},
      {"pos":124,"LessQ20":4.9,"LessQ30":6.7,"MoreEqQ30":88.4},
      {"pos":125,"LessQ20":5.1,"LessQ30":7.1,"MoreEqQ30":87.8},
      {"pos":126,"LessQ20":5.3,"LessQ30":7.6,"MoreEqQ30":87.1},
      {"pos":127,"LessQ20":5.2,"LessQ30":7.2,"MoreEqQ30":87.6},
      {"pos":128,"LessQ20":5.0,"LessQ30":6.8,"MoreEqQ30":88.2},
      {"pos":129,"LessQ20":4.9,"LessQ30":6.5,"MoreEqQ30":88.6},
      {"pos":130,"LessQ20":4.8,"LessQ30":6.3,"MoreEqQ30":88.9},
      {"pos":131,"LessQ20":5.0,"LessQ30":6.5,"MoreEqQ30":88.5},
      {"pos":132,"LessQ20":5.1,"LessQ30":6.8,"MoreEqQ30":88.1},
      {"pos":133,"LessQ20":5.0,"LessQ30":6.6,"MoreEqQ30":88.4},
      {"pos":134,"LessQ20":5.3,"LessQ30":7.0,"MoreEqQ30":87.7},
      {"pos":135,"LessQ20":5.2,"LessQ30":6.6,"MoreEqQ30":88.2},
      {"pos":136,"LessQ20":5.1,"LessQ30":6.4,"MoreEqQ30":88.5},
      {"pos":137,"LessQ20":5.3,"LessQ30":6.6,"MoreEqQ30":88.1},
      {"pos":138,"LessQ20":5.5,"LessQ30":6.9,"MoreEqQ30":87.6},
      {"pos":139,"LessQ20":5.4,"LessQ30":6.4,"MoreEqQ30":88.2},
      {"pos":140,"LessQ20":5.6,"LessQ30":6.6,"MoreEqQ30":87.8},
      {"pos":141,"LessQ20":5.9,"LessQ30":6.9,"MoreEqQ30":87.2},
      {"pos":142,"LessQ20":6.1,"LessQ30":7.2,"MoreEqQ30":86.7},
      {"pos":143,"LessQ20":6.0,"LessQ30":6.9,"MoreEqQ30":87.1},
      {"pos":144,"LessQ20":6.3,"LessQ30":7.2,"MoreEqQ30":86.5},
      {"pos":145,"LessQ20":6.5,"LessQ30":7.4,"MoreEqQ30":86.1},
      {"pos":146,"LessQ20":6.4,"LessQ30":7.0,"MoreEqQ30":86.6},
      {"pos":147,"LessQ20":6.7,"LessQ30":7.3,"MoreEqQ30":86.0},
      {"pos":148,"LessQ20":7.0,"LessQ30":7.6,"MoreEqQ30":85.4},
      {"pos":149,"LessQ20":6.9,"LessQ30":7.3,"MoreEqQ30":85.8},
      {"pos":150,"LessQ20":7.2,"LessQ30":7.6,"MoreEqQ30":85.2},
      {"pos":151,"LessQ20":7.4,"LessQ30":7.7,"MoreEqQ30":84.9},
      {"pos":152,"LessQ20":7.3,"LessQ30":7.4,"MoreEqQ30":85.3},
      {"pos":153,"LessQ20":7.6,"LessQ30":7.7,"MoreEqQ30":84.7},
      {"pos":154,"LessQ20":7.9,"LessQ30":7.9,"MoreEqQ30":84.2},
      {"pos":155,"LessQ20":7.8,"LessQ30":7.6,"MoreEqQ30":84.6},
      {"pos":156,"LessQ20":8.1,"LessQ30":8.1,"MoreEqQ30":83.8},
      {"pos":157,"LessQ20":8.6,"LessQ30":8.8,"MoreEqQ30":82.6},
      {"pos":158,"LessQ20":9.0,"LessQ30":9.6,"MoreEqQ30":81.4},
      {"pos":159,"LessQ20":8.5,"LessQ30":8.4,"MoreEqQ30":83.1},
      {"pos":160,"LessQ20":8.3,"LessQ30":7.8,"MoreEqQ30":83.9},
      {"pos":161,"LessQ20":8.4,"LessQ30":7.3,"MoreEqQ30":84.3},
      {"pos":162,"LessQ20":8.7,"LessQ30":7.6,"MoreEqQ30":83.7},
      {"pos":163,"LessQ20":8.8,"LessQ30":7.2,"MoreEqQ30":84.0},
      {"pos":164,"LessQ20":9.1,"LessQ30":7.5,"MoreEqQ30":83.4},
      {"pos":165,"LessQ20":9.4,"LessQ30":7.5,"MoreEqQ30":83.1},
      {"pos":166,"LessQ20":9.3,"LessQ30":7.1,"MoreEqQ30":83.6},
      {"pos":167,"LessQ20":9.7,"LessQ30":7.4,"MoreEqQ30":82.9},
      {"pos":168,"LessQ20":10.0,"LessQ30":7.8,"MoreEqQ30":82.2},
      {"pos":169,"LessQ20":10.3,"LessQ30":8.0,"MoreEqQ30":81.7},
      {"pos":170,"LessQ20":10.6,"LessQ30":8.3,"MoreEqQ30":81.1},
      {"pos":171,"LessQ20":11.0,"LessQ30":8.6,"MoreEqQ30":80.4},
      {"pos":172,"LessQ20":10.9,"LessQ30":8.2,"MoreEqQ30":80.9},
      {"pos":173,"LessQ20":11.2,"LessQ30":8.3,"MoreEqQ30":80.5},
      {"pos":174,"LessQ20":11.1,"LessQ30":7.7,"MoreEqQ30":81.2},
      {"pos":175,"LessQ20":11.4,"LessQ30":7.9,"MoreEqQ30":80.7},
      {"pos":176,"LessQ20":11.8,"LessQ30":8.1,"MoreEqQ30":80.1},
      {"pos":177,"LessQ20":11.6,"LessQ30":7.6,"MoreEqQ30":80.8},
      {"pos":178,"LessQ20":11.7,"LessQ30":7.3,"MoreEqQ30":81.0},
      {"pos":179,"LessQ20":12.1,"LessQ30":7.6,"MoreEqQ30":80.3},
      {"pos":180,"LessQ20":12.5,"LessQ30":8.1,"MoreEqQ30":79.4},
      {"pos":181,"LessQ20":12.9,"LessQ30":8.5,"MoreEqQ30":78.6},
      {"pos":182,"LessQ20":13.4,"LessQ30":8.9,"MoreEqQ30":77.7},
      {"pos":183,"LessQ20":13.8,"LessQ30":9.3,"MoreEqQ30":76.9},
      {"pos":184,"LessQ20":14.2,"LessQ30":9.6,"MoreEqQ30":76.2},
      {"pos":185,"LessQ20":14.0,"LessQ30":9.2,"MoreEqQ30":76.8},
      {"pos":186,"LessQ20":14.4,"LessQ30":9.6,"MoreEqQ30":76.0},
      {"pos":187,"LessQ20":14.9,"LessQ30":9.9,"MoreEqQ30":75.2},
      {"pos":188,"LessQ20":14.7,"LessQ30":9.5,"MoreEqQ30":75.8},
      {"pos":189,"LessQ20":15.1,"LessQ30":10.0,"MoreEqQ30":74.9},
      {"pos":190,"LessQ20":15.5,"LessQ30":10.3,"MoreEqQ30":74.2},
      {"pos":191,"LessQ20":15.3,"LessQ30":10.0,"MoreEqQ30":74.7},
      {"pos":192,"LessQ20":15.7,"LessQ30":10.4,"MoreEqQ30":73.9},
      {"pos":193,"LessQ20":16.3,"LessQ30":11.1,"MoreEqQ30":72.6},
      {"pos":194,"LessQ20":16.1,"LessQ30":10.7,"MoreEqQ30":73.2},
      {"pos":195,"LessQ20":16.5,"LessQ30":11.1,"MoreEqQ30":72.4},
      {"pos":196,"LessQ20":16.9,"LessQ30":11.4,"MoreEqQ30":71.7},
      {"pos":197,"LessQ20":16.7,"LessQ30":11.1,"MoreEqQ30":72.2},
      {"pos":198,"LessQ20":17.3,"LessQ30":11.8,"MoreEqQ30":70.9},
      {"pos":199,"LessQ20":17.1,"LessQ30":11.4,"MoreEqQ30":71.5},
      {"pos":200,"LessQ20":17.6,"LessQ30":12.0,"MoreEqQ30":70.4},
      {"pos":201,"LessQ20":18.0,"LessQ30":12.4,"MoreEqQ30":69.6},
      {"pos":202,"LessQ20":18.3,"LessQ30":12.7,"MoreEqQ30":69.0},
      {"pos":203,"LessQ20":18.7,"LessQ30":13.2,"MoreEqQ30":68.1},
      {"pos":204,"LessQ20":19.0,"LessQ30":13.6,"MoreEqQ30":67.4},
      {"pos":205,"LessQ20":19.3,"LessQ30":14.1,"MoreEqQ30":66.6},
      {"pos":206,"LessQ20":19.8,"LessQ30":15.3,"MoreEqQ30":64.9},
      {"pos":207,"LessQ20":20.4,"LessQ30":17.0,"MoreEqQ30":62.6},
      {"pos":208,"LessQ20":20.7,"LessQ30":17.5,"MoreEqQ30":61.8},
      {"pos":209,"LessQ20":20.3,"LessQ30":16.7,"MoreEqQ30":63.0},
      {"pos":210,"LessQ20":20.9,"LessQ30":18.4,"MoreEqQ30":60.7},
      {"pos":211,"LessQ20":21.5,"LessQ30":19.5,"MoreEqQ30":59.0},
      {"pos":212,"LessQ20":20.8,"LessQ30":17.9,"MoreEqQ30":61.3},
      {"pos":213,"LessQ20":19.6,"LessQ30":14.9,"MoreEqQ30":65.5},
      {"pos":214,"LessQ20":19.4,"LessQ30":14.4,"MoreEqQ30":66.2},
      {"pos":215,"LessQ20":19.9,"LessQ30":15.7,"MoreEqQ30":64.4},
      {"pos":216,"LessQ20":20.6,"LessQ30":17.3,"MoreEqQ30":62.1},
      {"pos":217,"LessQ20":21.2,"LessQ30":18.6,"MoreEqQ30":60.2},
      {"pos":218,"LessQ20":20.5,"LessQ30":16.7,"MoreEqQ30":62.8},
      {"pos":219,"LessQ20":19.7,"LessQ30":14.2,"MoreEqQ30":66.1},
      {"pos":220,"LessQ20":19.3,"LessQ30":12.3,"MoreEqQ30":68.4},
      {"pos":221,"LessQ20":19.2,"LessQ30":12.0,"MoreEqQ30":68.8},
      {"pos":222,"LessQ20":19.8,"LessQ30":13.0,"MoreEqQ30":67.2},
      {"pos":223,"LessQ20":19.5,"LessQ30":12.0,"MoreEqQ30":68.5},
      {"pos":224,"LessQ20":19.4,"LessQ30":11.6,"MoreEqQ30":69.0},
      {"pos":225,"LessQ20":19.9,"LessQ30":12.5,"MoreEqQ30":67.6},
      {"pos":226,"LessQ20":21.3,"LessQ30":14.2,"MoreEqQ30":64.5},
      {"pos":227,"LessQ20":23.6,"LessQ30":15.3,"MoreEqQ30":61.1},
      {"pos":228,"LessQ20":25.4,"LessQ30":15.7,"MoreEqQ30":58.9},
      {"pos":229,"LessQ20":25.0,"LessQ30":14.6,"MoreEqQ30":60.4},
      {"pos":230,"LessQ20":24.6,"LessQ30":13.2,"MoreEqQ30":62.2},
      {"pos":231,"LessQ20":24.1,"LessQ30":11.1,"MoreEqQ30":64.8},
      {"pos":232,"LessQ20":23.9,"LessQ30":10.7,"MoreEqQ30":65.4},
      {"pos":233,"LessQ20":24.5,"LessQ30":12.3,"MoreEqQ30":63.2},
      {"pos":234,"LessQ20":25.8,"LessQ30":15.1,"MoreEqQ30":59.1},
      {"pos":235,"LessQ20":26.4,"LessQ30":17.2,"MoreEqQ30":56.4},
      {"pos":236,"LessQ20":26.9,"LessQ30":17.8,"MoreEqQ30":55.3},
      {"pos":237,"LessQ20":26.6,"LessQ30":17.6,"MoreEqQ30":55.8},
      {"pos":238,"LessQ20":27.1,"LessQ30":18.2,"MoreEqQ30":54.7},
      {"pos":239,"LessQ20":28.0,"LessQ30":22.4,"MoreEqQ30":49.6},
      {"pos":240,"LessQ20":27.4,"LessQ30":18.7,"MoreEqQ30":53.9},
      {"pos":241,"LessQ20":26.8,"LessQ30":17.7,"MoreEqQ30":55.5},
      {"pos":242,"LessQ20":26.5,"LessQ30":17.5,"MoreEqQ30":56.0},
      {"pos":243,"LessQ20":25.9,"LessQ30":16.2,"MoreEqQ30":57.9},
      {"pos":244,"LessQ20":25.1,"LessQ30":14.3,"MoreEqQ30":60.6},
      {"pos":245,"LessQ20":24.6,"LessQ30":11.7,"MoreEqQ30":63.7},
      {"pos":246,"LessQ20":25.2,"LessQ30":11.6,"MoreEqQ30":63.2},
      {"pos":247,"LessQ20":26.4,"LessQ30":11.1,"MoreEqQ30":62.5},
      {"pos":248,"LessQ20":27.9,"LessQ30":11.0,"MoreEqQ30":61.1},
      {"pos":249,"LessQ20":29.3,"LessQ30":13.3,"MoreEqQ30":57.4},
      {"pos":250,"LessQ20":30.4,"LessQ30":13.7,"MoreEqQ30":55.9}
    ]
  }
}
